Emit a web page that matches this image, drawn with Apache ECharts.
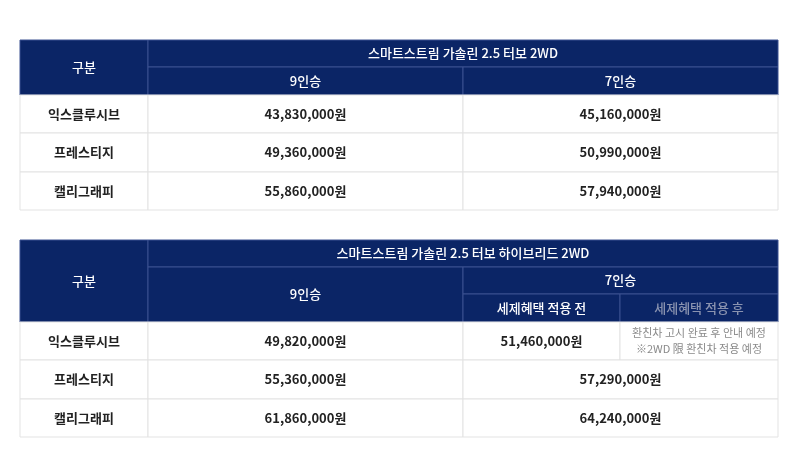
<!DOCTYPE html><html><head><meta charset="utf-8"><script src="https://cdn.jsdelivr.net/npm/echarts@6/dist/echarts.min.js"></script>
<style>html,body{margin:0;background:#fff}#c{width:800px;height:459px}</style></head><body><div id="c"></div><script>
const trims=['익스클루시브','프레스티지','캘리그래피'];
const t1Title='스마트스트림 가솔린 2.5 터보 2WD';
const t1Seat9=['43,830,000원','49,360,000원','55,860,000원'];
const t1Seat7=['45,160,000원','50,990,000원','57,940,000원'];
const t2Title='스마트스트림 가솔린 2.5 터보 하이브리드 2WD';
const t2Seat9=['49,820,000원','55,360,000원','61,860,000원'];
const t2Seat7=['51,460,000원','57,290,000원','64,240,000원'];
const t2Note='환친차 고시 완료 후 안내 예정\n※2WD 限 환친차 적용 예정';
// layout
const X1=[20,148,463,778], X2=[20,148,463,620,778];
const Y1=[40,67,95,133,172,210], Y2=[240,267,294,322,360,399,437];
const NAVY='#0b2566';
const cells=[];
function c(x0,y0,x1,y1,t,kind){cells.push([x0,y0,x1,y1,t,kind]);}
// table1
c(X1[0],Y1[0],X1[1],Y1[2],'구분','h');
c(X1[1],Y1[0],X1[3],Y1[1],t1Title,'h');
c(X1[1],Y1[1],X1[2],Y1[2],'9인승','h');
c(X1[2],Y1[1],X1[3],Y1[2],'7인승','h');
trims.forEach((t,i)=>{c(X1[0],Y1[i+2],X1[1],Y1[i+3],t,'d');c(X1[1],Y1[i+2],X1[2],Y1[i+3],t1Seat9[i],'d');c(X1[2],Y1[i+2],X1[3],Y1[i+3],t1Seat7[i],'d');});
// table2
c(X2[0],Y2[0],X2[1],Y2[3],'구분','h');
c(X2[1],Y2[0],X2[4],Y2[1],t2Title,'h');
c(X2[1],Y2[1],X2[2],Y2[3],'9인승','h');
c(X2[2],Y2[1],X2[4],Y2[2],'7인승','h');
c(X2[2],Y2[2],X2[3],Y2[3],'세제혜택 적용 전','h');
c(X2[3],Y2[2],X2[4],Y2[3],'세제혜택 적용 후','hg');
trims.forEach((t,i)=>{c(X2[0],Y2[i+3],X2[1],Y2[i+4],t,'d');c(X2[1],Y2[i+3],X2[2],Y2[i+4],t2Seat9[i],'d');
 if(i===0){c(X2[2],Y2[3],X2[3],Y2[4],t2Seat7[0],'d');c(X2[3],Y2[3],X2[4],Y2[4],t2Note,'n');}
 else c(X2[2],Y2[i+3],X2[4],Y2[i+4],t2Seat7[i],'d');});
const ch=echarts.init(document.getElementById('c'));
ch.setOption({animation:false,
 grid:{left:0,right:0,top:0,bottom:0},
 xAxis:{type:'value',min:0,max:800,show:false},
 yAxis:{type:'value',min:0,max:459,inverse:true,show:false},
 series:[{type:'custom',data:cells,renderItem(p,api){
  const a=api.coord([api.value(0),api.value(1)]),b=api.coord([api.value(2),api.value(3)]);
  const d=cells[p.dataIndex];const k=d[5];const hdr=k[0]==='h';
  const col=hdr?(k==='hg'?'#8a93b0':'#fff'):(k==='n'?'#8a8a8a':'#222');
  return {type:'group',children:[
   {type:'rect',shape:{x:a[0],y:a[1],width:b[0]-a[0],height:b[1]-a[1]},style:{fill:hdr?NAVY:'#fff',stroke:hdr?'#3a5090':'#e3e3e3',lineWidth:1}},
   {type:'text',style:{x:(a[0]+b[0])/2,y:(a[1]+b[1])/2,text:d[4],fill:col,align:'center',verticalAlign:'middle',
     font:(k==='n'?'400 11px':(hdr?'500 13px':'600 13px'))+' "Noto Sans CJK KR"',lineHeight:k==='n'?16:18}}]};
 }}]});
</script></body></html>
